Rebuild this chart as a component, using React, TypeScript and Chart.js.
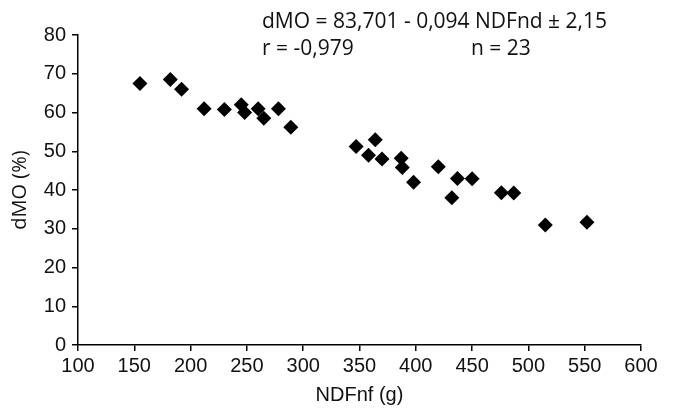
import React, { useEffect, useRef } from "react";
import { Chart, registerables } from "chart.js";

Chart.register(...registerables);

const ndfValues = [155, 182, 192, 212, 230, 245, 248, 260, 265, 278, 289, 347, 358, 364, 370, 387, 388, 398, 420, 432, 437, 450, 476, 487, 515, 552];
const dmoValues = [67.5, 68.5, 66, 61, 60.8, 62, 60, 61, 58.5, 61, 56.2, 51.2, 49, 53, 48, 48.2, 45.8, 42, 46, 38, 43, 42.9, 39.3, 39.2, 31, 31.7];

const xTitle = "NDFnf (g)";
const yTitle = "dMO (%)";
const equationLine = "dMO = 83,701 - 0,094 NDFnd \u00b1 2,15";
const rLabel = "r = -0,979";
const nLabel = "n = 23";

const TICK_FONT = { family: "'Liberation Sans', Arial, sans-serif", size: 20 };
const X_TITLE_FONT = { family: "'Liberation Sans', Arial, sans-serif", size: 20 };
const Y_TITLE_FONT = { family: "'Open Sans', 'Noto Sans', sans-serif", size: 20 };

const annotationPlugin = {
  id: "annotationText",
  afterDraw(chart: any) {
    const ctx = chart.ctx;
    ctx.save();
    ctx.fillStyle = "#111";
    ctx.font = "21px 'Open Sans', 'Noto Sans', sans-serif";
    ctx.textAlign = "left";
    ctx.textBaseline = "alphabetic";
    ctx.fillText(equationLine, 262, 28);
    ctx.fillText(rLabel, 262, 55);
    ctx.fillText(nLabel, 471, 55);
    ctx.restore();
  },
};

export default function App() {
  const ref = useRef<HTMLCanvasElement | null>(null);
  useEffect(() => {
    if (!ref.current) return;
    const points = ndfValues.map((x, i) => ({ x, y: dmoValues[i] }));
    const chart = new Chart(ref.current, {
      type: "scatter",
      data: {
        datasets: [
          {
            data: points,
            pointStyle: "rectRot",
            pointRadius: 7.5,
            pointHoverRadius: 7.5,
            backgroundColor: "#000",
            borderColor: "#000",
            borderWidth: 0,
          },
        ],
      },
      options: {
        responsive: false,
        animation: false,
        events: [],
        layout: { padding: { left: 0, top: 35, right: 33, bottom: 0 } },
        plugins: { legend: { display: false }, tooltip: { enabled: false } },
        scales: {
          x: {
            type: "linear",
            min: 100,
            max: 600,
            ticks: { stepSize: 50, color: "#111", font: TICK_FONT, padding: 3, maxRotation: 0 },
            grid: { drawOnChartArea: false, drawTicks: true, tickLength: 6, color: "#000", lineWidth: 1.5 },
            border: { display: true, color: "#000", width: 1.5 },
            title: { display: true, text: xTitle, color: "#111", font: X_TITLE_FONT, padding: { top: 0, bottom: 2 } },
            afterFit: (s: any) => { s.height = 64; },
          },
          y: {
            type: "linear",
            min: 0,
            max: 80,
            ticks: { stepSize: 10, color: "#111", font: TICK_FONT, padding: 6 },
            grid: { drawOnChartArea: false, drawTicks: true, tickLength: 6, color: "#000", lineWidth: 1.5 },
            border: { display: true, color: "#000", width: 1.5 },
            title: { display: true, text: yTitle, color: "#111", font: Y_TITLE_FONT, padding: { top: 8, bottom: 0 } },
            afterFit: (s: any) => { s.width = 78; },
          },
        },
      },
      plugins: [annotationPlugin],
    });
    return () => chart.destroy();
  }, []);
  return (
    <div style={{ position: "absolute", left: 0, top: 0, width: 674, height: 409, background: "#fff" }}>
      <canvas ref={ref} width={674} height={409} style={{ display: "block" }} />
    </div>
  );
}
